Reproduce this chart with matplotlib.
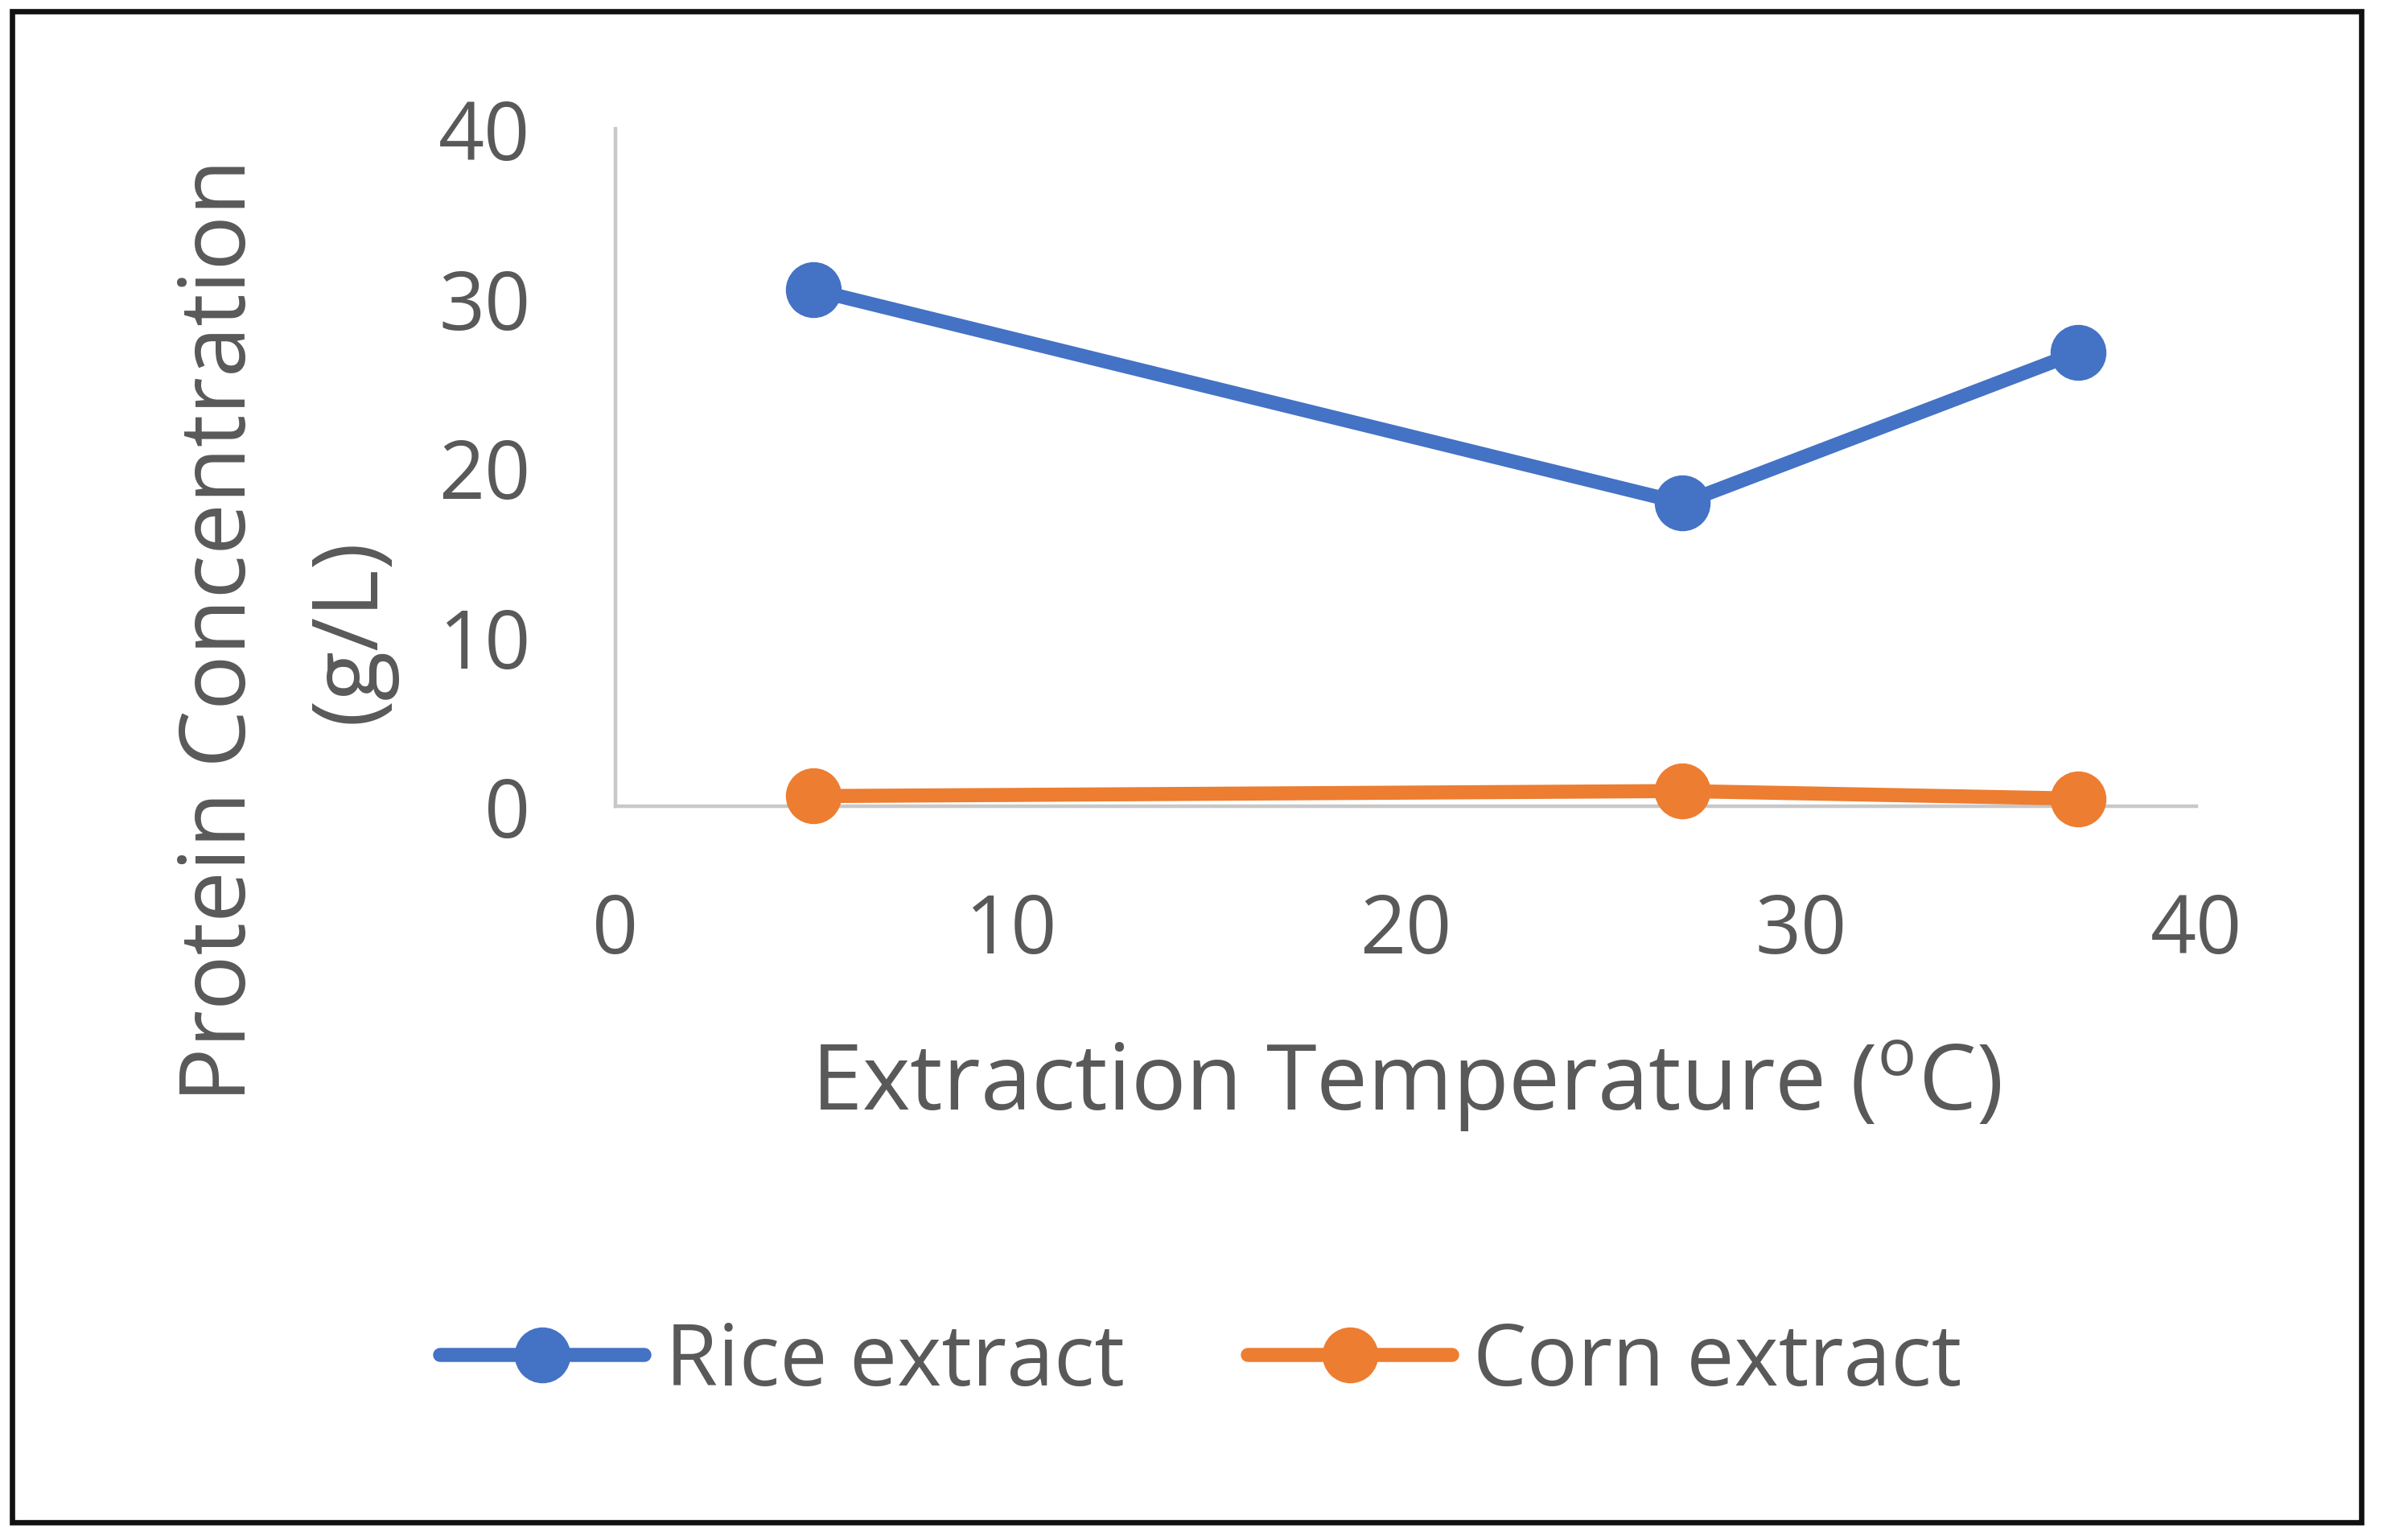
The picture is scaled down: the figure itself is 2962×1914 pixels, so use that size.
from matplotlib import pyplot as plt
from matplotlib.patches import Rectangle

plt.rcParams['font.family'] = ['Open Sans', 'DejaVu Sans']

temperature = [5, 27, 37]
rice_extract = [30.5, 17.9, 26.8]
corn_extract = [0.6, 0.9, 0.45]
x_ticks = [0, 10, 20, 30, 40]
y_ticks = [0, 10, 20, 30, 40]

text_color = '#595959'

fig = plt.figure(figsize=(14.81, 9.575), dpi=200)
ax = fig.add_axes([0.2583, 0.4762, 0.6634, 0.4397])

ax.plot(temperature, rice_extract, color='#4472C4', lw=6.3, marker='o', markersize=24,
        label='Rice extract', solid_capstyle='round')
ax.plot(temperature, corn_extract, color='#ED7D31', lw=6.3, marker='o', markersize=24,
        label='Corn extract', solid_capstyle='round')

ax.set_xlim(0, 40)
ax.set_ylim(0, 40)
ax.set_xticks(x_ticks)
ax.set_yticks(y_ticks)
ax.tick_params(length=0, labelsize=36, colors=text_color)
ax.tick_params(axis='y', pad=38)
ax.tick_params(axis='x', pad=38)

# Excel-style axes: only left and bottom, light grey
for side in ['top', 'right']:
    ax.spines[side].set_visible(False)
for side in ['left', 'bottom']:
    ax.spines[side].set_color('#C8C8C8')
    ax.spines[side].set_linewidth(1.6)
    ax.spines[side].set_zorder(0)
for line in ax.lines:
    line.set_clip_on(False)

fig.text(0.59, 0.2945, r'Extraction Temperature ($\mathregular{^o}$C)', fontsize=41,
         color=text_color, ha='center', va='center')
fig.text(0.12, 0.5906, 'Protein Concentration\n(g/L)', fontsize=41, color=text_color,
         ha='center', va='center', rotation=90, multialignment='center', linespacing=1.55)

fig.legend(loc='center', bbox_to_anchor=(0.504, 0.1154), ncol=2, frameon=False,
           fontsize=38, labelcolor=text_color, handlelength=2.4, handletextpad=0.25,
           columnspacing=1.45)

# black frame around the whole chart
fig.patches.append(Rectangle((0.005, 0.0115), 0.986, 0.9805, transform=fig.transFigure,
                             fill=False, edgecolor='#111111', linewidth=2.4))

fig.savefig('out.png', dpi=200, facecolor='white')
